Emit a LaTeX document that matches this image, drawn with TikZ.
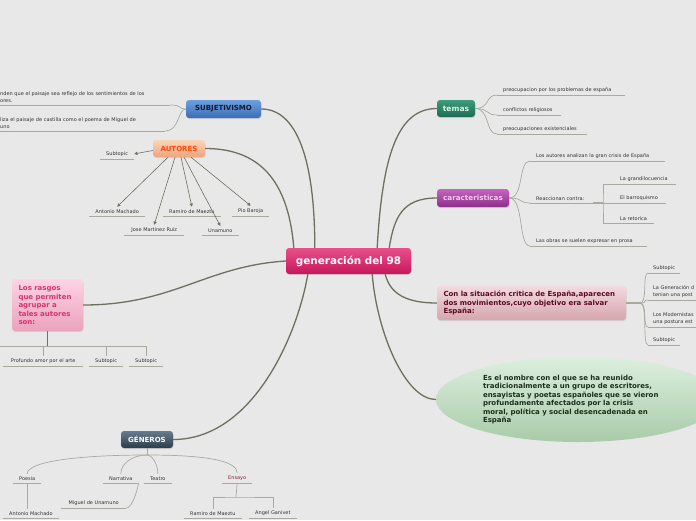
\documentclass[tikz,border=0pt]{standalone}
\usepackage{fontspec}
\setmainfont{DejaVu Sans}
\usetikzlibrary{arrows.meta,shapes.geometric,shadows}

\definecolor{bgc}{HTML}{E8E8E8}
\definecolor{connc}{HTML}{6F6F60}
\definecolor{twigc}{HTML}{A9A9A0}
\definecolor{leafc}{HTML}{333333}
\definecolor{genT}{HTML}{E9508A}
\definecolor{genB}{HTML}{C5175A}
\definecolor{subjT}{HTML}{6CA0E0}
\definecolor{subjB}{HTML}{3C6DB4}
\definecolor{subjtxt}{HTML}{0E1A33}
\definecolor{autT}{HTML}{F9D5B8}
\definecolor{autB}{HTML}{EBA57E}
\definecolor{auttxt}{HTML}{FF4A0A}
\definecolor{temT}{HTML}{3C9C7C}
\definecolor{temB}{HTML}{1F6B54}
\definecolor{temtxt}{HTML}{D8F5E5}
\definecolor{carT}{HTML}{C565BE}
\definecolor{carB}{HTML}{8C2E8A}
\definecolor{cartxt}{HTML}{FAC8F2}
\definecolor{sitT}{HTML}{F3DADE}
\definecolor{sitB}{HTML}{D5A6AE}
\definecolor{sittxt}{HTML}{5A0A20}
\definecolor{defT}{HTML}{DCEFDE}
\definecolor{defB}{HTML}{A9CBA9}
\definecolor{deftxt}{HTML}{1C2E1C}
\definecolor{rasT}{HTML}{FFD3E3}
\definecolor{rasB}{HTML}{E9A3BC}
\definecolor{rastxt}{HTML}{D3356F}
\definecolor{genrT}{HTML}{667D8D}
\definecolor{genrB}{HTML}{2B3D4B}
\definecolor{ensc}{HTML}{8B1E3E}

\newcommand\leaffont{\fontsize{5.0}{6.8}\selectfont}
\newcommand\boxfont{\bfseries\fontsize{7.0}{8.5}\selectfont}

\begin{document}
\begin{tikzpicture}[x=1pt, y=-1pt,
  box/.style={rounded corners=3pt, inner sep=0pt, minimum height=17pt, font=\boxfont,
    drop shadow={opacity=0.22, shadow xshift=0.5pt, shadow yshift=-1pt}},
  conn/.style={draw=connc, line width=1.3pt},
  twig/.style={draw=twigc, line width=0.7pt},
  arr/.style={draw=connc, line width=0.6pt, -{Triangle[length=3.2pt, width=3.2pt]}},
  uline/.style={draw=twigc, line width=0.8pt},
  leaf/.style={anchor=south west, inner xsep=6pt, inner ysep=2.5pt, text=leafc, font=\leaffont,
    append after command={(\tikzlastnode.south west) edge[uline] (\tikzlastnode.south east)}},
  leafl/.style={leaf, align=left, text width=#1},
]
\path[use as bounding box] (0,0) rectangle (696,520);
\clip (0,0) rectangle (696,520);
\fill[bgc] (0,0) rectangle (696,520);

\node[box, minimum width=125pt, minimum height=26pt, top color=genT, bottom color=genB, text=white,
  font=\bfseries\fontsize{10.4}{12}\selectfont] (gen) at (348.5,261) {generación del 98};

\node[box, minimum width=75pt, minimum height=18pt, top color=subjT, bottom color=subjB, text=subjtxt] (subj) at (223.5,109) {SUBJETIVISMO};
\node[leafl=170pt, inner xsep=0pt] (s1) at (0,105) {nden que el paisaje sea reflejo de los sentimientos de los\\ores.};
\node[leafl=165pt, inner xsep=0pt] (s2) at (0,131) {liza el paisaje de castilla como el poema de Miguel de\\uno};

\node[box, minimum width=52pt, top color=autT, bottom color=autB, text=auttxt] (aut) at (179,148.5) {AUTORES};
\node[leaf, minimum width=30pt] (a0) at (100,159) {Subtopic};
\node[leaf, minimum width=56pt] (a1) at (89,216) {Antonio Machado};
\node[leaf, minimum width=55pt] (a2) at (163,216) {Ramiro de Maeztu};
\node[leaf, minimum width=36pt] (a3) at (232,216) {Pio Baroja};
\node[leaf, minimum width=60pt] (a4) at (124,235) {Jose Martinez Ruiz};
\node[leaf, minimum width=31pt] (a5) at (202,235) {Unamuno};

\node[box, minimum width=38pt, top color=temT, bottom color=temB, text=temtxt,
  font=\bfseries\fontsize{7.6}{9}\selectfont] (temas) at (456,108.5) {temas};
\node[leafl=116pt] (t1) at (497,95) {preocupacion por los problemas de españa};
\node[leafl=52pt] (t2) at (497,115) {conflictos religiosos};
\node[leafl=78pt] (t3) at (497,134) {preocupaciones existenciales};

\node[box, minimum width=72pt, minimum height=18pt, top color=carT, bottom color=carB, text=cartxt,
  font=\bfseries\fontsize{7.2}{9}\selectfont] (carac) at (473,198) {caracteristicas};
\node[leafl=123pt] (c1) at (530,161) {Los autores analizan la gran crisis de España};
\node[leafl=51pt] (c2) at (530,203) {Reaccionan contra:};
\node[leafl=105pt] (c3) at (530,246) {Las obras se suelen expresar en prosa};
\node[leafl=50pt] (g1) at (614,184) {La grandilocuencia};
\node[leafl=40pt] (g2) at (614,203) {El barroquismo};
\node[leafl=28pt] (g3) at (614,223) {La retorica};
\coordinate (cbar) at (603,203);

\node[box, minimum width=189pt, minimum height=34pt, text width=176pt, align=left,
  top color=sitT, bottom color=sitB, text=sittxt] (situ) at (531.5,303)
  {Con la situación critica de España,aparecen\\dos movimientos,cuyo objetivo era salvar\\España:};
\node[leafl=22pt, inner xsep=5pt] (u1) at (648,273) {Subtopic};
\node[leafl=50pt, inner xsep=5pt] (u2) at (648,300) {La Generación d\\tenian una post};
\node[leafl=50pt, inner xsep=5pt] (u3) at (648,327) {Los Modernistas\\una postura est};
\node[leafl=22pt, inner xsep=5pt] (u4) at (648,345) {Subtopic};
\coordinate (sstem) at (640,303);

\node[ellipse, inner sep=0pt, minimum width=284pt, minimum height=85pt, text width=190pt, align=left,
  top color=defT, bottom color=defB, text=deftxt, font=\boxfont] (def) at (578,399.5)
  {Es el nombre con el que se ha reunido\\tradicionalmente a un grupo de escritores,\\ensayistas y poetas españoles que se vieron\\profundamente afectados por la crisis\\moral, política y social desencadenada en\\España};

\node[box, minimum width=71pt, minimum height=52pt, text width=58pt, align=left,
  top color=rasT, bottom color=rasB, text=rastxt] (rasgos) at (47.5,305)
  {Los rasgos\\que permiten\\agrupar a\\tales autores\\son:};
\node[leaf, minimum width=80pt] (r1) at (3,366) {Profundo amor por el arte};
\node[leaf, minimum width=33pt] (r2) at (89,366) {Subtopic};
\node[leaf, minimum width=32pt] (r3) at (129,366) {Subtopic};
\coordinate (rbar) at (47.5,346);
\coordinate (redge) at (0,346);

\node[box, minimum width=52pt, top color=genrT, bottom color=genrB, text=white] (genr) at (147,439.5) {GÉNEROS};
\node[leaf, minimum width=27pt] (gp) at (13,483) {Poesia};
\node[leaf, minimum width=31pt] (gn) at (103,483) {Narrativa};
\node[leaf, minimum width=26pt] (gt) at (144,483) {Teatro};
\node[leaf, minimum width=28pt, text=ensc] (ge) at (222,483) {Ensayo};
\node[leaf, minimum width=52pt] (gam) at (3,518) {Antonio Machado};
\node[leaf, minimum width=65pt] (gmu) at (61,508) {Miguel de Unamuno};
\node[leaf, minimum width=54pt] (grm) at (184,518) {Ramiro de Maeztu};
\node[leaf, minimum width=41pt] (gag) at (249,518) {Angel Ganivet};
\coordinate (gstem) at (147,455);
\coordinate (ebar) at (236,497);

\draw[conn] (subj.east) .. controls +(35,0) and +(0,-90) .. ([xshift=29pt]gen.north west);
\draw[conn] (aut.east) .. controls +(60,0) and +(-5,-60) .. ([xshift=8pt]gen.north west);
\draw[conn] (rasgos.east) .. controls +(90,0) and +(-80,5) .. (gen.west);
\draw[conn] (genr.east) .. controls +(80,0) and +(-10,60) .. ([xshift=22pt]gen.south west);
\draw[conn] (temas.west) .. controls +(-40,0) and +(5,-90) .. ([xshift=-34pt]gen.north east);
\draw[conn] (carac.west) .. controls +(-35,0) and +(5,-30) .. ([xshift=-22pt]gen.north east);
\draw[conn] (situ.west) .. controls +(-30,0) and +(5,20) .. ([xshift=-26pt]gen.south east);
\draw[conn] (def.west) .. controls +(-30,0) and +(5,60) .. ([xshift=-39pt]gen.south east);

\draw[twig] (s1.south east) .. controls +(12,0) and +(-8,0) .. (subj.west);
\draw[twig] (s2.south east) .. controls +(14,0) and +(-8,0) .. (subj.west);

\draw[arr] ([yshift=-2pt]aut.west) -- (a0.east);
\draw[arr] ([xshift=-11pt]aut.south) -- (a1.north);
\draw[arr] ([xshift=2pt]aut.south) -- (a2.north);
\draw[arr] ([xshift=12pt]aut.south) -- (a3.north);
\draw[arr] ([xshift=-4pt]aut.south) -- (a4.north);
\draw[arr] ([xshift=5pt]aut.south) -- (a5.north);

\draw[twig] (temas.east) .. controls +(15,0) and +(-12,0) .. (t1.south west);
\draw[twig] (temas.east) .. controls +(15,0) and +(-12,0) .. (t2.south west);
\draw[twig] (temas.east) .. controls +(15,0) and +(-12,0) .. (t3.south west);

\draw[twig] (carac.east) .. controls +(15,0) and +(-12,0) .. (c1.south west);
\draw[twig] (carac.east) .. controls +(15,0) and +(-12,0) .. (c2.south west);
\draw[twig] (carac.east) .. controls +(15,0) and +(-12,0) .. (c3.south west);
\draw[twig, line width=1.4pt] (c2.south east) -- (cbar);
\draw[twig] (g1.south west) -| (cbar) |- (g3.south west);
\draw[twig] (cbar) -- (g2.south west);

\draw[twig, line width=1.4pt] (situ.east) -- (sstem);
\draw[twig] (sstem) .. controls +(8,0) and +(-6,0) .. (u1.south west);
\draw[twig] (sstem) .. controls +(8,0) and +(-6,0) .. (u2.south west);
\draw[twig] (sstem) .. controls +(8,0) and +(-6,0) .. (u3.south west);
\draw[twig] (sstem) .. controls +(8,0) and +(-6,0) .. (u4.south west);

\draw[conn, line width=1.6pt] (rasgos.south) -- (rbar);
\draw[twig] (redge) -| (r3.north);
\draw[twig] (r1.north) -- (r1.north |- rbar);
\draw[twig] (r2.north) -- (r2.north |- rbar);

\draw[twig] (genr.south) -- (gstem);
\draw[twig] (gstem) .. controls +(-70,0) and +(0,-12) .. (gp.north);
\draw[twig] (gstem) .. controls +(-15,0) and +(0,-10) .. (gn.north);
\draw[twig] (gstem) .. controls +(5,0) and +(0,-10) .. (gt.north);
\draw[twig] (gstem) .. controls +(60,0) and +(0,-12) .. (ge.north);
\draw[twig] (gp.south) -- (gp.south |- gam.north);
\draw[twig] (gn.south east) .. controls +(-3,15) and +(4,0) .. (gmu.south east);
\draw[twig] (ge.south) -- (ebar);
\draw[twig] (grm.north) |- (ebar) -| (gag.north);
\end{tikzpicture}
\end{document}
